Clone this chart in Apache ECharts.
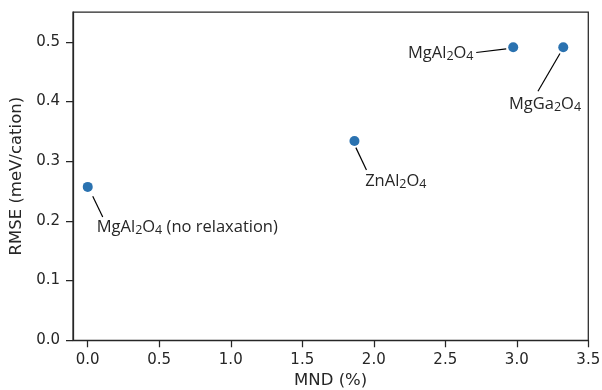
<!DOCTYPE html>
<html>
<head>
<meta charset="utf-8">
<script src="https://cdn.jsdelivr.net/npm/echarts@6/dist/echarts.min.js"></script>
<style>
  html, body { margin: 0; padding: 0; background: #fff; }
  #chart { width: 602px; height: 390px; }
</style>
</head>
<body>
<div id="chart"></div>
<script>
// data
var mnd = [0.0, 1.865, 2.975, 3.325];
var rmse = [0.257, 0.334, 0.491, 0.491];
var names = [
  "MgAl{s|2}O{s|4} (no relaxation)",
  "ZnAl{s|2}O{s|4}",
  "MgAl{s|2}O{s|4}",
  "MgGa{s|2}O{s|4}"
];
var xTicks = [0.0, 0.5, 1.0, 1.5, 2.0, 2.5, 3.0, 3.5];
var yTicks = [0.0, 0.1, 0.2, 0.3, 0.4, 0.5];

// annotation offsets (px from the point): text anchor, leader line ends
var notes = [
  { tx: 9, ty: 40, align: "left", l: [5, 9.4, 15, 30] },
  { tx: 10.7, ty: 40.3, align: "left", l: [1.4, 6.7, 12, 29] },
  { tx: -39.7, ty: 6, align: "right", l: [-37, 5.3, -7, 1.7] },
  { tx: -54.3, ty: 57, align: "left", l: [-3.3, 6.3, -25.3, 44] }
];

var ink = "#262626";
var tickFont = "DejaVu Sans";

var chart = echarts.init(document.getElementById("chart"), null, { renderer: "canvas" });

var pts = [];
for (var i = 0; i < mnd.length; i++) pts.push([mnd[i], rmse[i]]);

var option = {
  animation: false,
  backgroundColor: "#fff",
  grid: {
    left: 73, right: 13.7, top: 12, bottom: 49.7,
    outerBoundsMode: "none",
    containLabel: false,
    show: true, borderColor: ink, borderWidth: 1.25, backgroundColor: "transparent"
  },
  xAxis: {
    type: "value",
    min: -0.103, max: 3.5,
    name: "MND (%)",
    nameLocation: "middle",
    nameGap: 32,
    nameTextStyle: { fontFamily: tickFont, fontSize: 16.5, color: ink },
    splitLine: { show: false },
    axisLine: { onZero: false, lineStyle: { color: ink, width: 1.25 } },
    axisTick: { length: 7, lineStyle: { color: ink, width: 1.25 }, customValues: xTicks },
    axisLabel: {
      customValues: xTicks,
      margin: 12,
      fontFamily: tickFont, fontSize: 15, color: ink,
      formatter: function (v) { return v.toFixed(1); }
    }
  },
  yAxis: {
    type: "value",
    min: 0, max: 0.55,
    name: "RMSE (meV/cation)",
    nameLocation: "middle",
    nameGap: 45,
    nameTextStyle: { fontFamily: tickFont, fontSize: 16.5, color: ink },
    splitLine: { show: false },
    axisLine: { onZero: false, lineStyle: { color: ink, width: 1.25 } },
    axisTick: { length: 7, lineStyle: { color: ink, width: 1.25 }, customValues: yTicks },
    axisLabel: {
      customValues: yTicks,
      margin: 13,
      fontFamily: tickFont, fontSize: 15, color: ink,
      formatter: function (v) { return v.toFixed(1); }
    }
  },
  series: [{
    type: "scatter",
    data: pts,
    symbolSize: 10,
    itemStyle: { color: "#2a72b0", opacity: 1 }
  }]
};

chart.setOption(option);

// leader lines and labels, placed through the chart's own scales
var graphics = [];
for (var j = 0; j < pts.length; j++) {
  var p = chart.convertToPixel({ gridIndex: 0 }, pts[j]);
  var n = notes[j];
  graphics.push({
    type: "line",
    shape: { x1: p[0] + n.l[0], y1: p[1] + n.l[1], x2: p[0] + n.l[2], y2: p[1] + n.l[3] },
    style: { stroke: "#000", lineWidth: 1.2 }
  });
  graphics.push({
    type: "text",
    x: p[0] + n.tx,
    y: p[1] + n.ty,
    style: {
      text: names[j],
      fontFamily: "Open Sans",
      fontSize: 16.5,
      lineHeight: 20,
      fill: ink,
      align: n.align,
      verticalAlign: "middle",
      rich: {
        s: { fontFamily: "Open Sans", fontSize: 12.5, lineHeight: 11, verticalAlign: "bottom", fill: ink }
      }
    }
  });
}
chart.setOption({ graphic: graphics });
</script>
</body>
</html>
